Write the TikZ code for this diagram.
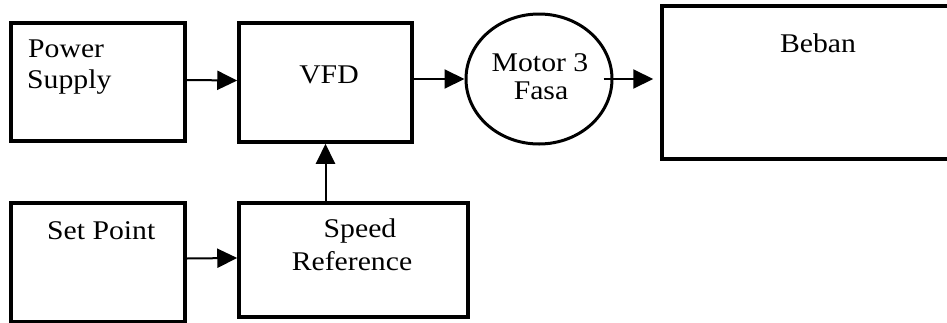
\documentclass[tikz,border=0pt]{standalone}
\usepackage{fontspec}
\setmainfont{Liberation Serif}[FakeStretch=1.1]
\usetikzlibrary{arrows.meta,shapes.geometric}
\begin{document}
\begin{tikzpicture}[x=1pt,y=-1pt,
  box/.style={draw,line width=3.5pt,rectangle,inner sep=0pt},
  motorshape/.style={draw,line width=3pt,ellipse,inner sep=0pt},
  txt/.style={inner sep=0pt,anchor=base,font=\fontsize{27}{30}\selectfont},
  arr/.style={line width=2pt,-{Triangle[length=20pt,width=19pt]}}]
\useasboundingbox (0,0) rectangle (947,322);
\clip (0,0) rectangle (947,322);
\fill[white] (0,0) rectangle (947,322);
% boxes
\node[box,minimum width=174pt,minimum height=118pt] (ps) at (98,82) {};
\node[box,minimum width=173pt,minimum height=119pt] (vfd) at (325.5,82.5) {};
\node[box,minimum width=174pt,minimum height=119pt] (sp) at (98,262.5) {};
\node[box,minimum width=229pt,minimum height=114pt] (sr) at (353.5,260) {};
\node[motorshape,minimum width=146pt,minimum height=130pt] (motor) at (539,79) {};
\node[box,minimum width=290pt,minimum height=153pt] (beban) at (807,82.5) {};
% texts
\node[txt,anchor=base west] (psA) at (28,57) {Power};
\node[txt,anchor=base west] (psB) at (27,88) {Supply};
\node[txt] (vfdT) at (329,83) {VFD};
\node[txt,anchor=base west] (spT) at (47,239) {Set Point};
\node[txt] (srA) at (360,237) {Speed};
\node[txt] (srB) at (352,270) {Reference};
\node[txt] (mA) at (540,71) {Motor 3};
\node[txt] (mB) at (541,99) {Fasa};
\node[txt] (bT) at (818,52) {Beban};
% connectors
\draw[arr] ([yshift=2pt]ps.east) -- ([yshift=2pt]vfd.west);
\draw[arr] (vfd.east |- motor.west) -- (motor.west);
\draw[arr] ([xshift=-10pt]motor.east) -- ([xshift=-7pt]beban.west |- motor.east);
\draw[arr] (vfd.south |- sr.north) -- (vfd.south);
\draw[arr] ([yshift=4pt]sp.east) -- ([yshift=2pt]sr.west);
\end{tikzpicture}
\end{document}
